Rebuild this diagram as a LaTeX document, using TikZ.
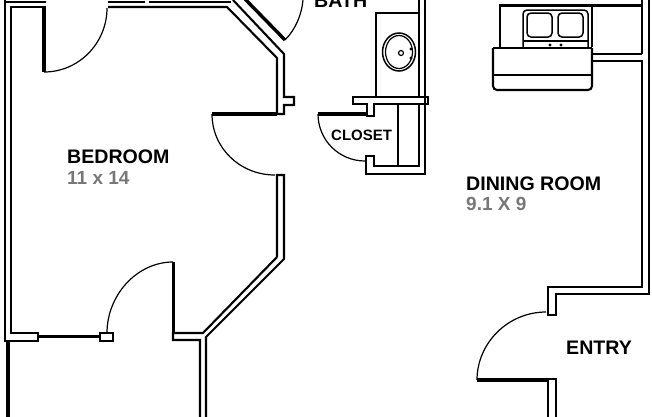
\documentclass[tikz,border=0pt]{standalone}
\usepackage{fontspec}
\setmainfont{Liberation Sans}
\definecolor{dimgray}{HTML}{777777}
\tikzset{
    wall/.style={line width=2.1pt,line join=miter},
    leaf/.style={line width=3.4pt},
    swing/.style={line width=1.2pt},
    fixture/.style={line width=1.5pt},
    room/.style={font=\bfseries\fontsize{19.6}{19.6}\selectfont,inner sep=0pt,anchor=west},
    size/.style={font=\bfseries\fontsize{19}{19}\selectfont,text=dimgray,inner sep=0pt,anchor=west},
}
\begin{document}
\begin{tikzpicture}[x=1pt,y=-1pt]
    \useasboundingbox (0,0) rectangle (652,416);
    \clip (0,0) rectangle (652,416);
    \draw [wall] (5,-2)--(5,341)--(38,341)--(38,333)--(11,333)--(11,7)--(46,7);
    \draw [wall] (5,2)--(46,2);
    \draw [wall] (38,336.5)--(100,336.5);
    \draw [wall] (100,333) rectangle (113,341);
    \draw [line width=4pt] (8,341)--(8,418);
    \draw [wall] (108,2)--(145,2);
    \draw [wall] (149,2)--(231,2);
    \draw [wall] (108,7)--(227,7)--(277,58)--(277,114)--(284,114)--(284,105)--(294,105)--(294,97)--(284,97)--(284,54)--(233,0);
    \draw [leaf] (44,7)--(44,72);
    \draw [swing] (44,72) .. controls (79,72) and (107,43) .. (107,8);
    \draw [leaf] (245,-1)--(285,40);
    \draw [swing] (285,40) .. controls (295,30) and (302,15) .. (303,-1);
    \draw [leaf] (212,114)--(277,114);
    \draw [swing] (212,114) .. controls (212,148) and (240,175) .. (275,175);
    \draw [wall] (277,257)--(277,175)--(284,175)--(284,259)--(206,337)--(206,418);
    \draw [wall] (277,257)--(203,333)--(173,333)--(173,340)--(200,340)--(200,418);
    \draw [leaf] (173.5,262)--(173.5,333);
    \draw [swing] (173,262) .. controls (137,262) and (107,295) .. (107,333);
    \draw [wall] (425,-2)--(425,174)--(366,174)--(366,156)--(374,156)--(374,166)--(419,166)--(419,104)--(374,104)--(374,116)--(367,116)--(367,104)--(353,104)--(353,97)--(428,97)--(428,104)--(419,104);
    \draw [wall] (419,-2)--(419,97);
    \draw [wall] (376,97)--(376,13)--(419,13);
    \draw [fixture] (398,104)--(398,166);
    \draw [leaf] (318,114)--(367,114);
    \draw [swing] (318,114) .. controls (318,140) and (339,161) .. (365,161);
    \draw [fixture] (399,52) ellipse [x radius=16.5,y radius=19];
    \draw [swing] (399,52) ellipse [x radius=13.5,y radius=16.5];
    \draw [swing] (401,53) circle [radius=2.5];
    \fill (411,49) circle [radius=1.6];
    \fill (411,58) circle [radius=1.6];
    \draw [wall] (500,47)--(500,5.5)--(642,5.5);
    \draw [wall] (592,47)--(592,5.5);
    \draw [wall] (592,54)--(642,54);
    \draw [wall] (592,61)--(642,61)--(642,287)--(548,287)--(548,315)--(556,315)--(556,294)--(649,294)--(649,-2);
    \draw [wall] (642,-2)--(642,54);
    \draw [wall,rounded corners=4pt] (493,48)--(493,90)--(592,90)--(592,48);
    \draw [wall] (493,48)--(592,48);
    \draw [wall] (493,75)--(592,75);
    \draw [fixture,rounded corners=4pt] (523,47)--(523,10)--(588,10)--(588,47);
    \draw [fixture] (523,41)--(588,41);
    \draw [fixture,rounded corners=4pt] (527,13) rectangle (552,37);
    \draw [fixture,rounded corners=4pt] (558,13) rectangle (583,37);
    \fill (550,45) circle [radius=1.6];
    \fill (561,45) circle [radius=1.6];
    \draw [leaf] (477,380)--(547,380);
    \draw [swing] (546,312) .. controls (508,312) and (477,343) .. (477,380);
    \draw [wall] (548,418)--(548,379)--(556,379)--(556,418);
    \node [room] (bedroom) at (67,157) {BEDROOM};
    \node [size] (bedroomsize) at (67,178) {11 x 14};
    \node [room] (bath) at (314,0.5) {BATH};
    \node [room,font=\bfseries\fontsize{15}{15}\selectfont] (closet) at (331,135.5) {CLOSET};
    \node [room] (dining) at (466,184) {DINING ROOM};
    \node [size] (diningsize) at (466,204) {9.1 X 9};
    \node [room] (entry) at (566,348) {ENTRY};
\end{tikzpicture}
\end{document}
